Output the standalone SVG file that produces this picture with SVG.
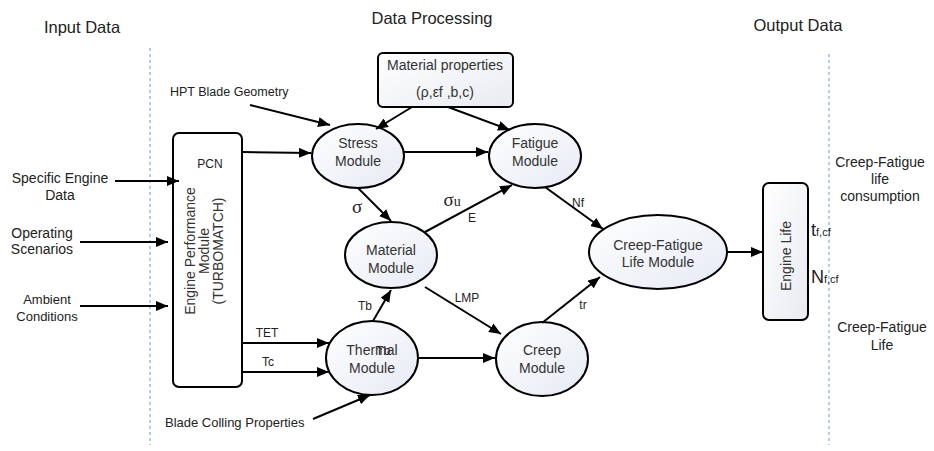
<svg xmlns="http://www.w3.org/2000/svg" width="934" height="451" viewBox="0 0 934 451">
<style>
text{font-family:"Liberation Sans",Arial,sans-serif;fill:#222;}
.hdr{font-size:16.5px;text-anchor:middle;}
.lbl{font-size:14px;text-anchor:middle;}
.sm{font-size:13px;text-anchor:middle;}
.node{font-size:14px;text-anchor:middle;fill:#333;}
.el{font-size:12px;text-anchor:middle;}
.gk{font-family:"Liberation Serif","DejaVu Serif",serif;}
.ell{fill:url(#g);stroke:#000;stroke-width:2;}
.box{stroke:#000;stroke-width:2;}
.dash{stroke:#9dc3e6;stroke-width:1.6;stroke-dasharray:3,3;fill:none;}
#conn line{stroke:#000;stroke-width:2;marker-end:url(#ah);}
</style>
<defs>
<linearGradient id="g" x1="0" y1="0" x2="1" y2="1">
<stop offset="0" stop-color="#ffffff"/>
<stop offset="1" stop-color="#e6eaf4"/>
</linearGradient>
<linearGradient id="gb" x1="0" y1="0" x2="1" y2="1">
<stop offset="0" stop-color="#ffffff"/>
<stop offset="1" stop-color="#e9ebf1"/>
</linearGradient>
<marker id="ah" viewBox="0 0 12 10" refX="12" refY="5" markerWidth="12" markerHeight="10" markerUnits="userSpaceOnUse" orient="auto">
<path d="M0,0 L12,5 L0,10 z" fill="#000"/>
</marker>
</defs>
<rect width="934" height="451" fill="#fff"/>

<g id="headers">
<text class="hdr" x="82" y="33">Input Data</text>
<text class="hdr" x="432" y="24">Data Processing</text>
<text class="hdr" x="798" y="31">Output Data</text>
</g>
<g id="dividers">
<line class="dash" x1="150" y1="48" x2="150" y2="445"/>
<line class="dash" x1="829" y1="54" x2="829" y2="445"/>
</g>

<g id="inputs">
<text class="lbl" x="60" y="183">Specific Engine</text>
<text class="lbl" x="60" y="200">Data</text>
<text class="lbl" x="42" y="238">Operating</text>
<text class="lbl" x="42" y="254">Scenarios</text>
<text class="sm" x="47" y="304">Ambient</text>
<text class="sm" x="47" y="321">Conditions</text>
<text x="170" y="96" style="font-size:12.5px">HPT Blade Geometry</text>
<text x="165" y="427" style="font-size:13px">Blade Colling Properties</text>
</g>

<g id="engine-performance">
<rect class="box" x="173" y="133" width="69" height="254" rx="6" fill="#fff"/>
<text class="el" x="210" y="168">PCN</text>
<g transform="translate(203,251) rotate(-90)">
<text class="node" x="0" y="-8">Engine Performance</text>
<text class="node" x="0" y="6">Module</text>
<text class="node" x="0" y="20">(TURBOMATCH)</text>
</g>
</g>

<g id="material-properties">
<rect class="box" x="378" y="53" width="135" height="54" rx="5" fill="url(#gb)"/>
<text class="node" x="445" y="70">Material properties</text>
<text class="node" x="445" y="97">(ρ,εf ,b,c)</text>
</g>

<g id="stress">
<ellipse class="ell" cx="358" cy="156" rx="46" ry="32"/>
<text class="node" x="358" y="148">Stress</text>
<text class="node" x="358" y="166">Module</text>
</g>

<g id="fatigue">
<ellipse class="ell" cx="535" cy="156" rx="46" ry="32"/>
<text class="node" x="535" y="148">Fatigue</text>
<text class="node" x="535" y="166">Module</text>
</g>

<g id="material">
<ellipse class="ell" cx="391" cy="255" rx="46" ry="33"/>
<text class="node" x="391" y="255">Material</text>
<text class="node" x="391" y="273">Module</text>
</g>

<g id="thermal">
<ellipse class="ell" cx="372" cy="358" rx="46" ry="37"/>
<text class="node" x="372" y="355">Thermal</text>
<text class="node" x="383" y="355" style="font-size:13px">Tb</text>
<text class="node" x="372" y="373">Module</text>
</g>

<g id="creep">
<ellipse class="ell" cx="542" cy="359" rx="46" ry="37"/>
<text class="node" x="542" y="355">Creep</text>
<text class="node" x="542" y="373">Module</text>
</g>

<g id="creep-fatigue">
<ellipse class="ell" cx="658" cy="252" rx="69" ry="37"/>
<text class="node" x="658" y="250">Creep-Fatigue</text>
<text class="node" x="658" y="267">Life Module</text>
</g>

<g id="engine-life">
<rect class="box" x="763" y="183" width="45" height="137" rx="6" fill="url(#gb)"/>
<text class="node" transform="translate(791,256) rotate(-90)" x="0" y="0">Engine Life</text>
</g>

<g id="outputs">
<text x="811" y="236" style="font-size:18px">t<tspan style="font-size:11px">f,cf</tspan></text>
<text x="811" y="283" style="font-size:18px">N<tspan style="font-size:11px">f,cf</tspan></text>
<text class="lbl" x="880" y="167">Creep-Fatigue</text>
<text class="lbl" x="880" y="184">life</text>
<text class="lbl" x="880" y="201">consumption</text>
<text class="lbl" x="882" y="332">Creep-Fatigue</text>
<text class="lbl" x="882" y="350">Life</text>
</g>

<g id="conn">
<line x1="115" y1="181" x2="179" y2="181"/>
<line x1="80" y1="242" x2="168" y2="242"/>
<line x1="80" y1="306" x2="168" y2="306"/>
<line x1="242" y1="152" x2="311" y2="153"/>
<line x1="250" y1="105" x2="330" y2="125"/>
<line x1="412" y1="107" x2="376" y2="129"/>
<line x1="448" y1="107" x2="510" y2="130"/>
<line x1="404" y1="152" x2="488" y2="152"/>
<line x1="358" y1="188" x2="391" y2="221"/>
<line x1="425" y1="232" x2="512" y2="185"/>
<line x1="545" y1="187" x2="603" y2="229"/>
<line x1="425" y1="287" x2="501" y2="334"/>
<line x1="373" y1="321" x2="391" y2="290"/>
<line x1="242" y1="343" x2="329" y2="343"/>
<line x1="242" y1="372" x2="329" y2="372"/>
<line x1="419" y1="358" x2="495" y2="358"/>
<line x1="313" y1="419" x2="370" y2="395"/>
<line x1="542" y1="323" x2="600" y2="277"/>
<line x1="727" y1="252" x2="763" y2="252"/>
</g>

<g id="edge-labels">
<text class="gk" x="357" y="213" style="font-size:19px;text-anchor:middle">σ</text>
<text class="gk" x="452" y="206" style="font-size:19px;text-anchor:middle">σ<tspan style="font-size:14px">u</tspan></text>
<text class="el" x="472" y="222">E</text>
<text class="el" x="578" y="207">Nf</text>
<text class="el" x="467" y="302">LMP</text>
<text class="el" x="365" y="310">Tb</text>
<text class="el" x="583" y="309">tr</text>
<text class="el" x="267" y="337">TET</text>
<text class="el" x="268" y="366">Tc</text>
</g>
</svg>
